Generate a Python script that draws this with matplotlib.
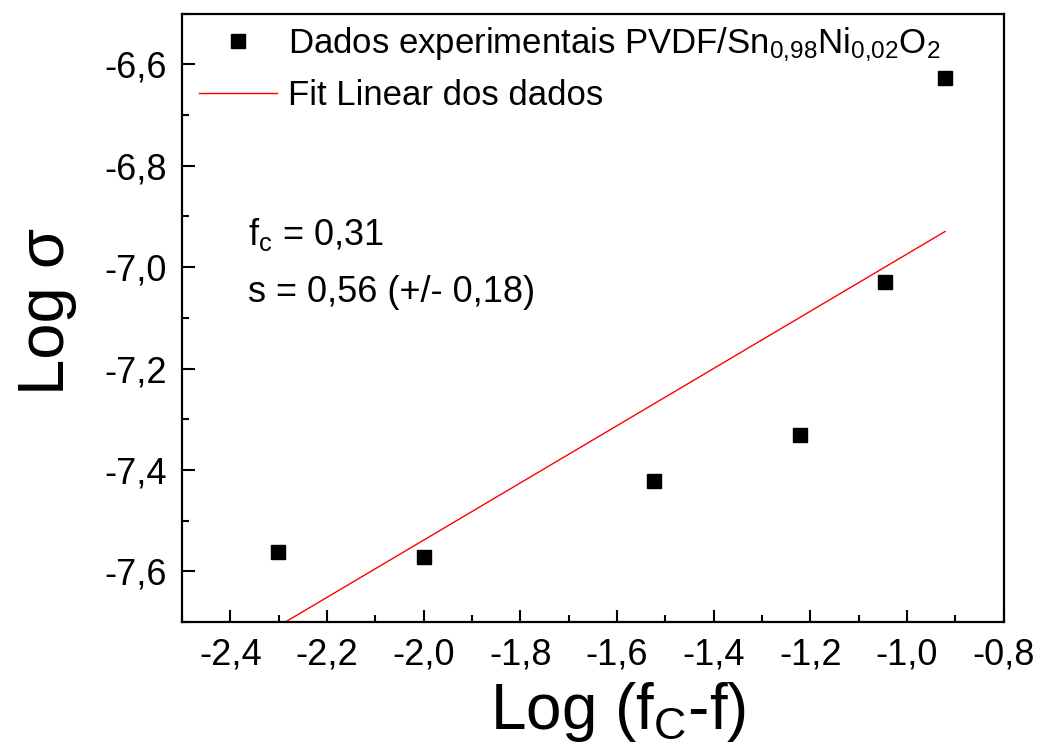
import numpy as np
import matplotlib
matplotlib.use("Agg")
from matplotlib import pyplot as plt
from matplotlib.ticker import FuncFormatter, MultipleLocator

plt.rcParams['font.family'] = ['Liberation Sans', 'DejaVu Sans']
plt.rcParams['mathtext.fontset'] = 'custom'
plt.rcParams['mathtext.rm'] = 'Liberation Sans'
plt.rcParams['mathtext.it'] = 'Liberation Sans'
plt.rcParams['mathtext.bf'] = 'Liberation Sans:bold'

# data
log_fc_f = [-2.301, -2.000, -1.523, -1.222, -1.046, -0.921]
log_sigma = [-7.562, -7.572, -7.422, -7.331, -7.030, -6.628]

# linear fit of the data
slope, icpt = np.polyfit(log_fc_f, log_sigma, 1)
xfit = np.array([min(log_fc_f), max(log_fc_f)])
yfit = slope * xfit + icpt

fig = plt.figure(figsize=(10.4, 7.55), dpi=100)
ax = fig.add_axes([0.175, 0.176, 0.790, 0.806])

ax.plot(log_fc_f, log_sigma, 's', color='black', markersize=9.5, linestyle='none',
        label='Dados experimentais PVDF/Sn$_{0{,}98}$Ni$_{0{,}02}$O$_2$')
ax.plot(xfit, yfit, color='red', linewidth=1.0, label='Fit Linear dos dados')

ax.set_xlim(-2.5, -0.8)
ax.set_ylim(-7.7, -6.5)
ax.xaxis.set_major_locator(MultipleLocator(0.2))
ax.xaxis.set_minor_locator(MultipleLocator(0.1))
ax.yaxis.set_major_locator(MultipleLocator(0.2))
ax.yaxis.set_minor_locator(MultipleLocator(0.1))

fmt = FuncFormatter(lambda v, p: ('%.1f' % v).replace('.', ','))
ax.xaxis.set_major_formatter(fmt)
ax.yaxis.set_major_formatter(fmt)

ax.tick_params(which='both', direction='in', top=False, right=False, width=1.5)
ax.tick_params(which='major', length=9, labelsize=26, pad=11)
ax.tick_params(which='minor', length=5)
for s in ax.spines.values():
    s.set_linewidth(1.6)

ax.set_xlabel('Log (f$_C$-f)', fontsize=46)
ax.set_ylabel('Log σ', fontsize=47)
ax.xaxis.set_label_coords(0.531, -0.095)
ax.yaxis.set_label_coords(-0.128, 0.51)

ax.text(0.08, 0.62, 'f$_c$ = 0,31', transform=ax.transAxes, fontsize=26, va='baseline')
ax.text(0.08, 0.526, 's = 0,56 (+/- 0,18)', transform=ax.transAxes, fontsize=26, va='baseline')

ax.legend(loc='upper left', frameon=False, fontsize=25, handlelength=2.25,
          handletextpad=0.3, borderaxespad=0.1, labelspacing=0.45,
          bbox_to_anchor=(0.0, 1.009))

fig.savefig('out.png', dpi=100)
